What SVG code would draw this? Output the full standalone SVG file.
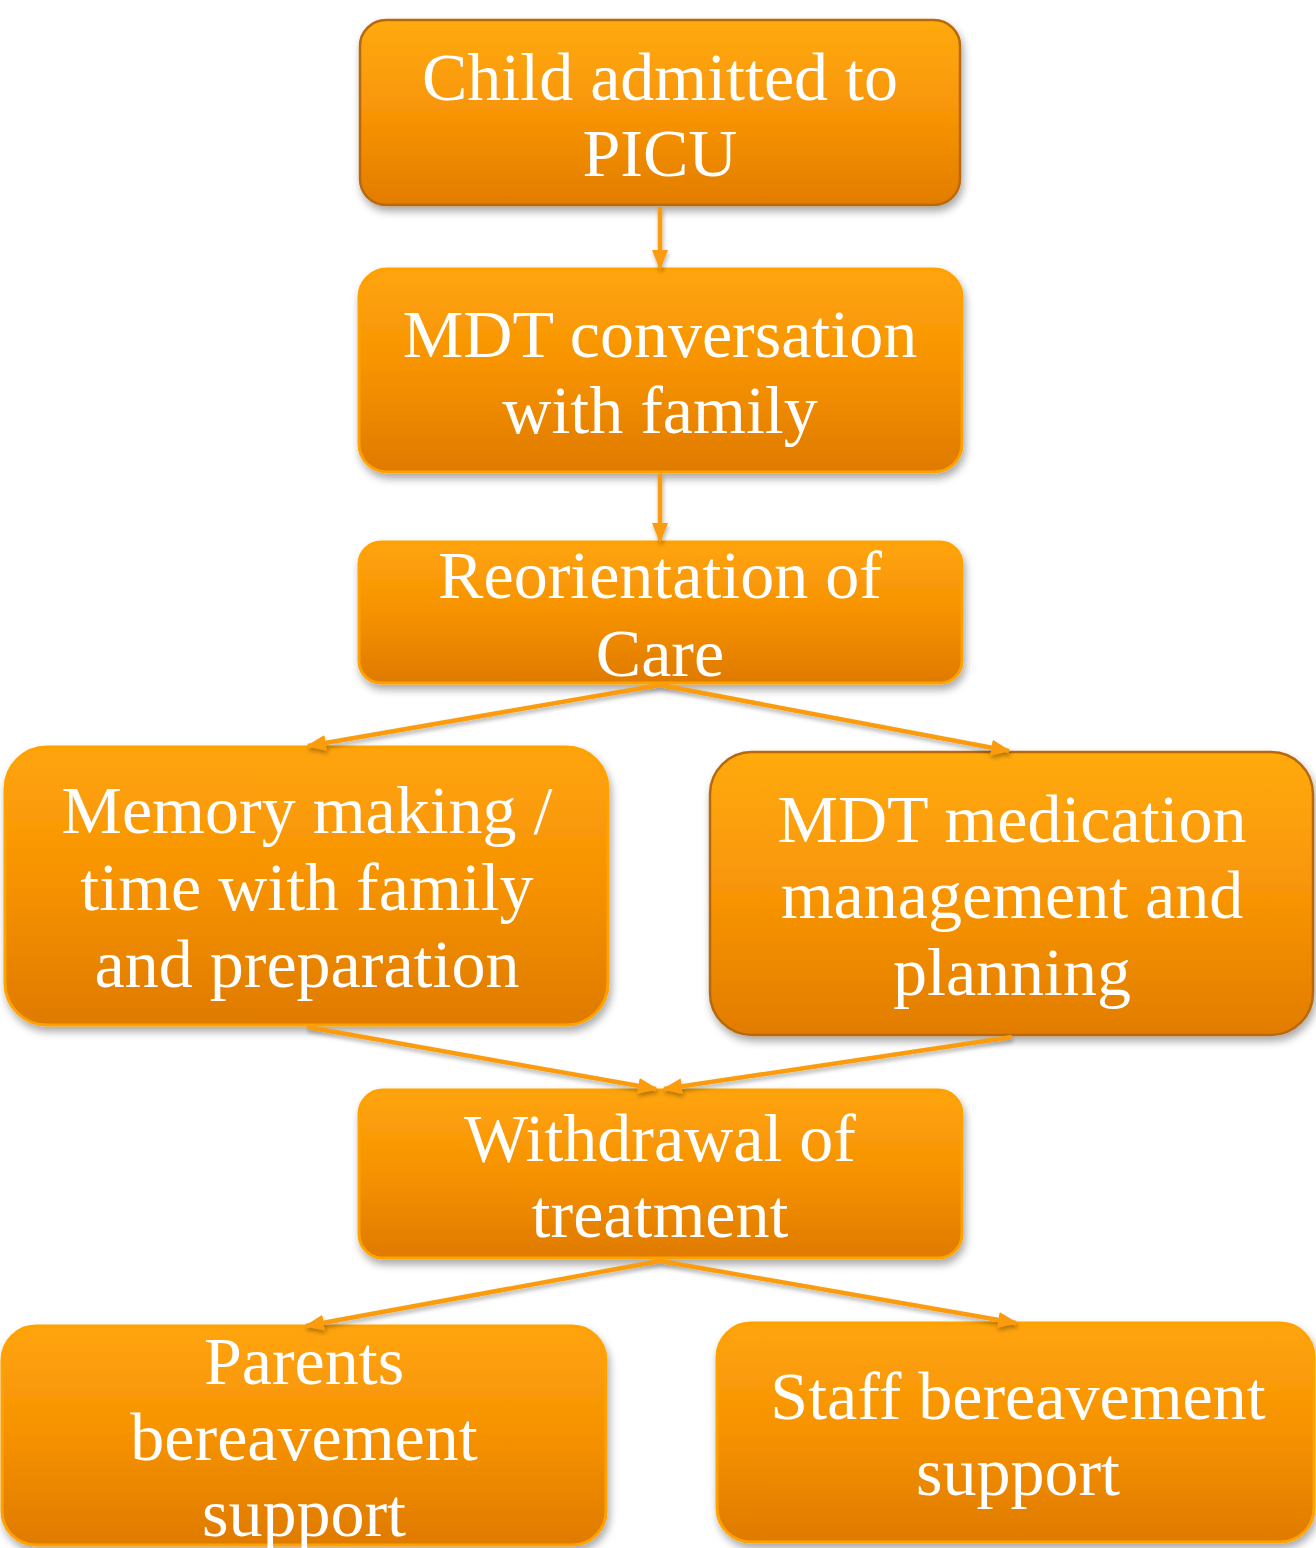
<svg xmlns="http://www.w3.org/2000/svg" width="1316" height="1548" viewBox="0 0 1316 1548">
  <defs>
    <linearGradient id="fillOrange" x1="0" y1="0" x2="0" y2="1">
      <stop offset="0" stop-color="#FFA40A"/>
      <stop offset="0.5" stop-color="#F69204"/>
      <stop offset="1" stop-color="#DF7A00"/>
    </linearGradient>
    <linearGradient id="fillBevel" x1="0" y1="0" x2="0" y2="1">
      <stop offset="0" stop-color="#FFAA0C"/>
      <stop offset="0.5" stop-color="#F89506"/>
      <stop offset="1" stop-color="#E27C00"/>
    </linearGradient>
    <filter id="shadow" x="-10%" y="-10%" width="120%" height="130%">
      <feGaussianBlur in="SourceAlpha" stdDeviation="4"/>
      <feOffset dx="2" dy="5" result="b"/>
      <feComponentTransfer><feFuncA type="linear" slope="0.35"/></feComponentTransfer>
      <feMerge><feMergeNode/><feMergeNode in="SourceGraphic"/></feMerge>
    </filter>
    <filter id="lineShadow" x="-10%" y="-50%" width="120%" height="200%">
      <feGaussianBlur in="SourceAlpha" stdDeviation="2"/>
      <feOffset dx="1" dy="3" result="b"/>
      <feComponentTransfer><feFuncA type="linear" slope="0.3"/></feComponentTransfer>
      <feMerge><feMergeNode/><feMergeNode in="SourceGraphic"/></feMerge>
    </filter>
    <marker id="arrow" viewBox="0 0 20 16" refX="18" refY="8" markerWidth="20" markerHeight="16" orient="auto" markerUnits="userSpaceOnUse">
      <path d="M0,0 L20,8 L0,16 Z" fill="#FA9C0A"/>
    </marker>
  </defs>
  <style>
    .box { fill: url(#fillOrange); stroke: #FFA200; stroke-width: 3; filter: url(#shadow); }
    .bevel { fill: url(#fillBevel); stroke: #B8690A; stroke-width: 2.5; filter: url(#shadow); }
    .label { font-family: "Liberation Serif", "Times New Roman", serif; font-size: 68px; fill: #FFFFFF; text-anchor: middle; }
    .conn { stroke: #FA9C0A; stroke-width: 4.5; fill: none; }
  </style>

  <g id="node-admitted">
    <rect class="bevel" x="360" y="20" width="600" height="185" rx="26"/>
    <text class="label" x="660" y="100">Child admitted to</text>
    <text class="label" x="660" y="176">PICU</text>
  </g>

  <g id="node-conversation">
    <rect class="box" x="359" y="269" width="603" height="203" rx="28"/>
    <text class="label" x="660" y="357">MDT conversation</text>
    <text class="label" x="660" y="433">with family</text>
  </g>

  <g id="node-reorientation">
    <rect class="box" x="359" y="542" width="603" height="141" rx="22"/>
    <text class="label" x="660" y="598">Reorientation of</text>
    <text class="label" x="660" y="676">Care</text>
  </g>

  <g id="node-memory">
    <rect class="box" x="5" y="747" width="603" height="278" rx="42"/>
    <text class="label" x="307" y="833">Memory making /</text>
    <text class="label" x="307" y="910">time with family</text>
    <text class="label" x="307" y="987">and preparation</text>
  </g>

  <g id="node-medication">
    <rect class="bevel" x="710" y="752" width="603" height="283" rx="42"/>
    <text class="label" x="1012" y="842">MDT medication</text>
    <text class="label" x="1012" y="918">management and</text>
    <text class="label" x="1012" y="995">planning</text>
  </g>

  <g id="node-withdrawal">
    <rect class="box" x="359" y="1090" width="603" height="168" rx="24"/>
    <text class="label" x="660" y="1161">Withdrawal of</text>
    <text class="label" x="660" y="1237">treatment</text>
  </g>

  <g id="node-parents">
    <rect class="box" x="2" y="1326" width="604" height="219" rx="34"/>
    <text class="label" x="304" y="1384">Parents</text>
    <text class="label" x="304" y="1460">bereavement</text>
    <text class="label" x="304" y="1536">support</text>
  </g>

  <g id="node-staff">
    <rect class="box" x="717" y="1323" width="597" height="219" rx="34"/>
    <text class="label" x="1018" y="1419">Staff bereavement</text>
    <text class="label" x="1018" y="1495">support</text>
  </g>

  <!-- connectors, drawn above the boxes so the arrowheads sit on their edges -->
  <g id="connectors" filter="url(#lineShadow)">
    <line class="conn" x1="660" y1="207" x2="660" y2="268" marker-end="url(#arrow)"/>
    <line class="conn" x1="660" y1="474" x2="660" y2="541" marker-end="url(#arrow)"/>
    <line class="conn" x1="660" y1="685" x2="308" y2="746" marker-end="url(#arrow)"/>
    <line class="conn" x1="660" y1="685" x2="1009" y2="751" marker-end="url(#arrow)"/>
    <line class="conn" x1="307" y1="1027" x2="656" y2="1089" marker-end="url(#arrow)"/>
    <line class="conn" x1="1012" y1="1037" x2="664" y2="1089" marker-end="url(#arrow)"/>
    <line class="conn" x1="660" y1="1261" x2="306" y2="1326" marker-end="url(#arrow)"/>
    <line class="conn" x1="660" y1="1261" x2="1016" y2="1323" marker-end="url(#arrow)"/>
  </g>
</svg>
